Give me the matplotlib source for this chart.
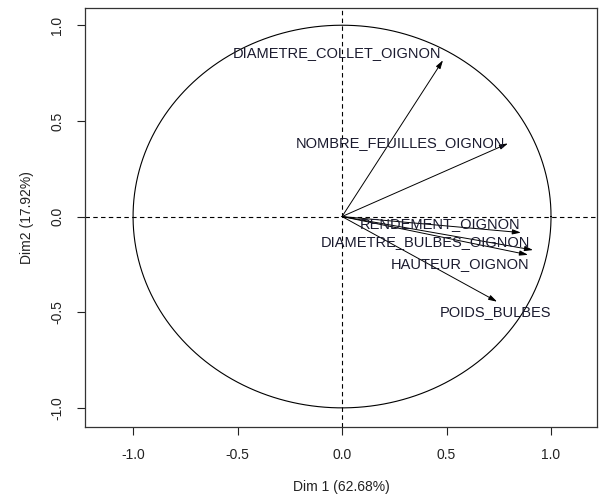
import numpy as np
import matplotlib
matplotlib.use("Agg")
import matplotlib.pyplot as plt

variables = ["DIAMETRE_COLLET_OIGNON", "NOMBRE_FEUILLES_OIGNON", "RENDEMENT_OIGNON",
             "DIAMETRE_BULBES_OIGNON", "HAUTEUR_OIGNON", "POIDS_BULBES"]
dim1 = [0.483, 0.794, 0.856, 0.914, 0.890, 0.742]
dim2 = [0.817, 0.382, -0.084, -0.175, -0.200, -0.445]
label_x = [-0.024, 0.278, 0.469, 0.397, 0.565, 0.735]
label_y = [0.853, 0.382, -0.037, -0.131, -0.246, -0.497]
ticks = [-1.0, -0.5, 0.0, 0.5, 1.0]
tick_labels = ["-1.0", "-0.5", "0.0", "0.5", "1.0"]

plt.rcParams['font.family'] = ['Liberation Sans', 'DejaVu Sans']
fig = plt.figure(figsize=(6.01, 4.95), dpi=100)
ax = fig.add_axes([85/601, 1-427/495, (597-85)/601, (427-8)/495])

theta = np.linspace(0, 2*np.pi, 400)
ax.plot(np.cos(theta), np.sin(theta), color='black', lw=0.8)
ax.axhline(0, color='black', lw=0.8, ls=(0, (4, 3)))
ax.axvline(0, color='black', lw=0.8, ls=(0, (4, 3)))

for x, y in zip(dim1, dim2):
    ax.annotate("", xy=(x, y), xytext=(0, 0),
                arrowprops=dict(arrowstyle="-|>,head_length=0.5,head_width=0.15",
                                color='black', lw=0.7, shrinkA=0, shrinkB=0))
for name, lx, ly in zip(variables, label_x, label_y):
    ax.text(lx, ly, name, ha='center', va='center', fontsize=10.5, color='#1a1a2e')

ax.set_xlim(-1.23, 1.22)
ax.set_ylim(-1.10, 1.09)
ax.set_xticks(ticks)
ax.set_xticklabels(tick_labels)
ax.set_yticks(ticks)
ax.set_yticklabels(tick_labels, rotation=90, va='center')
ax.tick_params(direction='out', length=6, width=0.8, labelsize=10, colors='#222222', pad=9)
for s in ax.spines.values():
    s.set_linewidth(0.9)
    s.set_color('#333333')
ax.set_xlabel("Dim 1 (62.68%)", fontsize=10, color='#222222', labelpad=13)
ax.set_ylabel("Dim2 (17.92%)", fontsize=10, color='#222222', labelpad=12)

fig.savefig("out.png", dpi=100)
